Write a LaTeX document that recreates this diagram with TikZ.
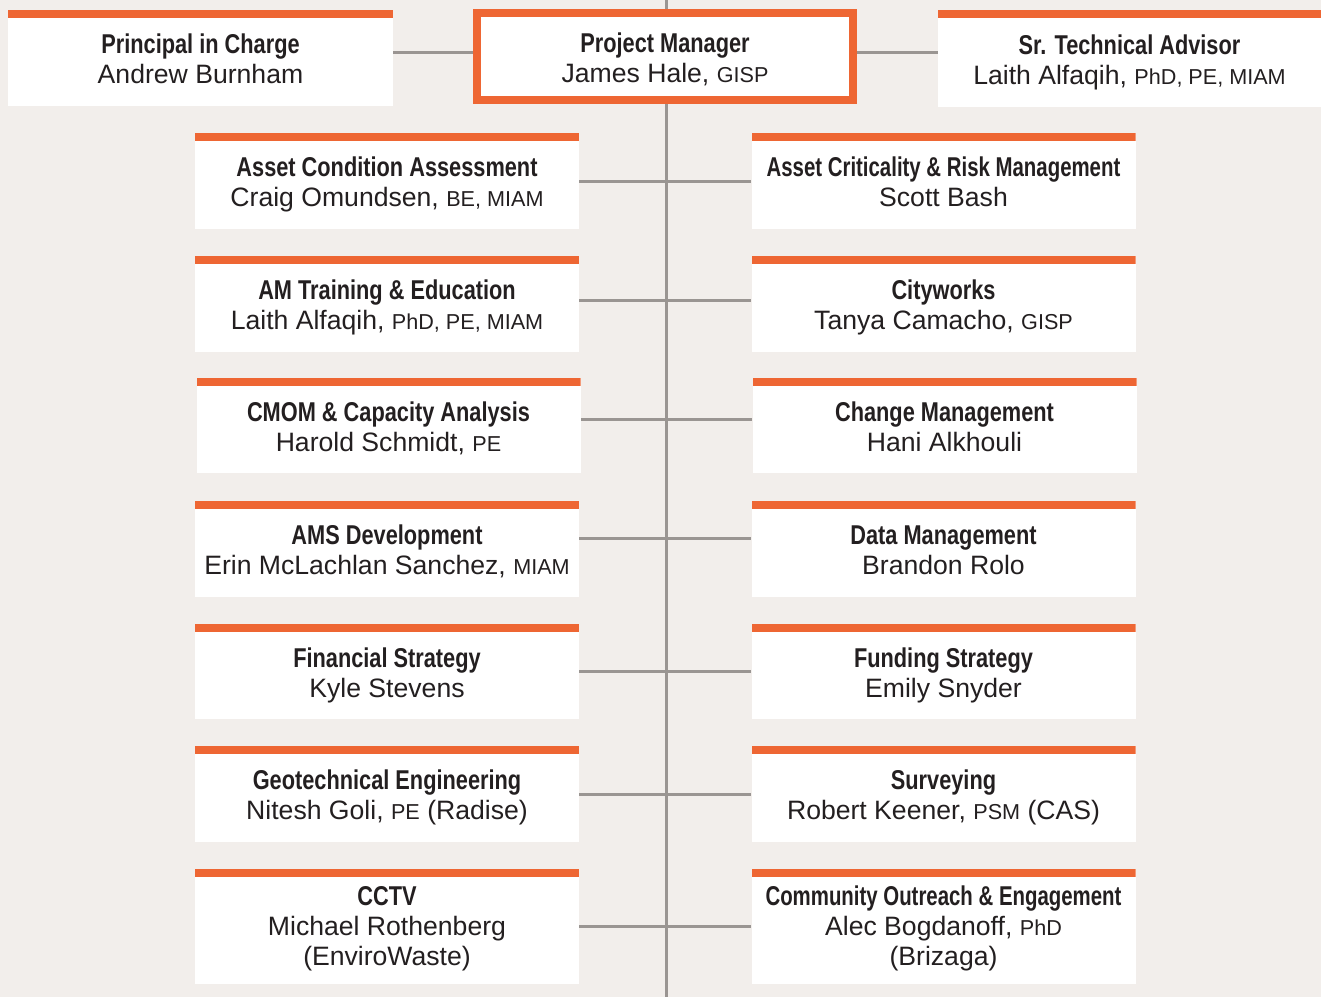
\documentclass[tikz,border=0pt]{standalone}
\usepackage{fontspec}
\usetikzlibrary{backgrounds}
\setmainfont{Liberation Sans}
\newfontfamily\titlefont[FakeStretch=0.8]{Liberation Sans}
\newfontfamily\tighttitlefont[FakeStretch=0.75]{Liberation Sans}
\definecolor{barorange}{HTML}{EE6633}
\definecolor{paper}{HTML}{F2EEEB}
\definecolor{wire}{HTML}{9A9592}
\definecolor{ink}{HTML}{231F20}
\newcommand{\role}[1]{{\fontsize{13.6}{15}\titlefont\bfseries #1}}
\newcommand{\longrole}[1]{{\fontsize{13.6}{15}\tighttitlefont\bfseries #1}}
\newcommand{\cred}[1]{{\fontsize{10.8}{15}\selectfont #1}}

\begin{document}
\begin{tikzpicture}[x=0.5pt,y=-0.5pt,
    member/.style ={fill=white, inner sep=0pt, align=center, text=ink,
      minimum width=192pt, minimum height=48pt, font=\fontsize{13.3}{15}\selectfont,
      text height=28.7pt, text depth=3pt,
      path picture={\fill[barorange] (path picture bounding box.north west)
        rectangle ([yshift=-4pt]path picture bounding box.north east);}},
    threeline/.style ={minimum height=57.5pt, text height=42.2pt},
    manager/.style ={fill=white, draw=barorange, line width=4pt, inner sep=0pt,
      align=center, text=ink, minimum width=188pt, minimum height=43.5pt,
      text height=29pt, text depth=3pt, font=\fontsize{13.3}{15}\selectfont},
    link/.style ={draw=wire, line width=1.5pt}]
   \useasboundingbox (0,0) rectangle (1321,997);
   % top row
   \node[member, minimum width=192.5pt] (pic) at (200.5,58)
      {\role{Principal in Charge}\\ Andrew Burnham};
   \node[manager] (pm) at (665,56.5)
      {\role{Project Manager}\\ James Hale, \cred{GISP}};
   \node[member, minimum width=191.5pt, minimum height=48.5pt] (sta) at (1129.5,58.5)
      {\role{Sr. Technical Advisor}\\ Laith Alfaqih, \cred{PhD, PE, MIAM}};
   % left column
   \node[member] (aca) at (387,181)
      {\role{Asset Condition Assessment}\\ Craig Omundsen, \cred{BE, MIAM}};
   \node[member] (amt) at (387,304)
      {\role{AM Training \& Education}\\ Laith Alfaqih, \cred{PhD, PE, MIAM}};
   \node[member, minimum height=47.5pt] (cmom) at (388.5,425.5)
      {\role{CMOM \& Capacity Analysis}\\ Harold Schmidt, \cred{PE}};
   \node[member] (ams) at (387,549)
      {\role{AMS Development}\\ Erin McLachlan Sanchez, \cred{MIAM}};
   \node[member, minimum height=47.5pt] (fin) at (387,671.5)
      {\role{Financial Strategy}\\ Kyle Stevens};
   \node[member] (geo) at (387,794)
      {\role{Geotechnical Engineering}\\ Nitesh Goli, \cred{PE} (Radise)};
   \node[member, threeline] (cctv) at (387,926.5)
      {\role{CCTV}\\ Michael Rothenberg\\ (EnviroWaste)};
   % right column
   \node[member] (acr) at (943.5,181)
      {\longrole{Asset Criticality \& Risk Management}\\ Scott Bash};
   \node[member] (cw) at (943.5,304)
      {\role{Cityworks}\\ Tanya Camacho, \cred{GISP}};
   \node[member, minimum height=47.5pt] (chg) at (944.5,425.5)
      {\role{Change Management}\\ Hani Alkhouli};
   \node[member] (dm) at (943.5,549)
      {\role{Data Management}\\ Brandon Rolo};
   \node[member, minimum height=47.5pt] (fund) at (943.5,671.5)
      {\role{Funding Strategy}\\ Emily Snyder};
   \node[member] (surv) at (943.5,794)
      {\role{Surveying}\\ Robert Keener, \cred{PSM} (CAS)};
   \node[member, threeline] (coe) at (943.5,926.5)
      {\longrole{Community Outreach \& Engagement}\\ Alec Bogdanoff, \cred{PhD}\\ (Brizaga)};
   \coordinate (spinetop) at (666,0);
   \coordinate (spinebot) at (666,997);
   \begin{scope}[on background layer]
   \fill[paper] (0,0) rectangle (1321,997);
   \draw[link] (spinetop) to (spinebot);
   \draw[link] ([yshift=3pt]pic.east) to ([yshift=3pt]pic.east -| pm.west);
   \draw[link] ([yshift=2.25pt]pm.east) to ([yshift=2.25pt]pm.east -| sta.west);
   \draw[link] (aca) to (acr);
   \draw[link] ([yshift=2pt]amt.east) to ([yshift=2pt]cw.west);
   \draw[link] ([yshift=3.25pt]cmom.east) to ([yshift=3.25pt]chg.west);
   \draw[link] ([yshift=5.5pt]ams.east) to ([yshift=5.5pt]dm.west);
   \draw[link] (fin) to (fund);
   \draw[link] (geo) to (surv);
   \draw[link] (cctv) to (coe);
   \end{scope}
 \end{tikzpicture}
\end{document}
